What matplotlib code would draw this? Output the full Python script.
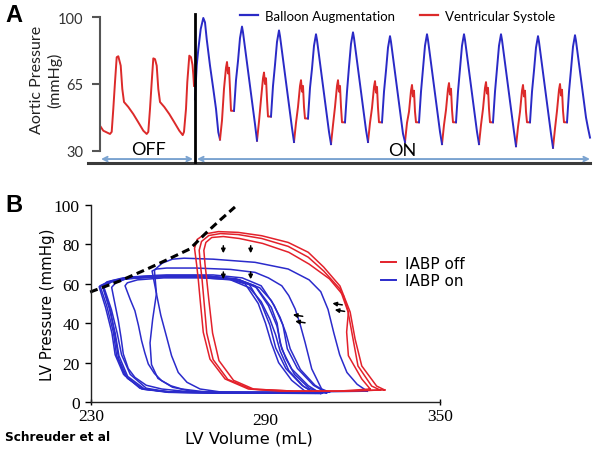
import matplotlib
matplotlib.use("Agg")
import matplotlib.pyplot as plt
from matplotlib.lines import Line2D

# ---------------- panel A: aortic pressure (x = sample index, y = mmHg) ----------------
off_t = [0, 3.3, 10, 11.7, 13.3, 15, 16.7, 18.3, 20.7, 22.3, 24, 28.3, 33.3, 38.3, 43.3, 46.7,
         48.3, 50, 51.7, 53.3, 55, 56.7, 58.3, 60, 64.3, 69.3, 74.3, 79.3, 82.7,
         84, 86, 87.3, 89.3, 91, 92.5, 93.3, 94]
off_p = [43.2, 40.6, 38.9, 40, 52, 66, 79, 79.5, 74.6, 62.4, 55.6, 53, 49.3, 45, 40.6, 38.9,
         40, 52, 66, 78.4, 78, 74.6, 62.4, 55.6, 53, 49.3, 45, 40.6, 38.3,
         40, 52, 66, 79.8, 79, 75, 70, 64]

first_blue_t = [95, 96.7, 98.3, 100.7, 103.3, 105, 106.7, 110, 113.3, 116, 118.3, 120]
first_blue_p = [57, 74.6, 83, 93.7, 99.5, 97.2, 88.5, 74.6, 62.4, 52, 39.8, 36]

on_red_t = [
    [120, 122, 124, 126, 127, 128, 129, 130, 131, 134],
    [157, 159, 161, 163, 164, 165, 166, 167, 168, 171],
    [194, 196, 198, 200, 201, 202, 203, 204, 205, 208],
    [231, 233, 235, 237, 238, 239, 240, 241, 242, 245],
    [268, 270, 272, 274, 275, 276, 277, 278, 279, 282],
    [305, 307, 309, 311, 312, 313, 314, 315, 316, 319],
    [342, 344, 346, 348, 349, 350, 351, 352, 353, 356],
    [379, 381, 383, 385, 386, 387, 388, 389, 390, 393],
    [416, 418, 420, 422, 423, 424, 425, 426, 427, 430],
    [453, 455, 457, 459, 460, 461, 462, 463, 464, 467],
]
on_red_p = [
    [36, 46, 62.5, 73.5, 76.5, 70.5, 73.5, 62.5, 51, 51],
    [35.4, 45.4, 57, 68, 71, 65, 68, 57, 48, 48],
    [34.7, 44.7, 53, 64, 67, 61, 64, 53, 47, 47],
    [33.6, 43.6, 53, 64, 67, 61, 64, 53, 45, 45],
    [34.7, 44.7, 52.5, 63.5, 66.5, 60.5, 63.5, 52.5, 45, 45],
    [34.7, 44.7, 50.5, 61.5, 64.5, 58.5, 61.5, 50.5, 45, 45],
    [33.6, 43.6, 51.5, 62.5, 65.5, 59.5, 62.5, 51.5, 45, 45],
    [33.6, 43.6, 52, 63, 66, 60, 63, 52, 45, 45],
    [32.5, 42.5, 50.5, 61.5, 64.5, 58.5, 61.5, 50.5, 45, 45],
    [31.7, 41.7, 51, 62, 65, 59, 62, 51, 45, 45],
]
on_blue_t = [
    [134, 136, 138, 140, 142, 143, 145, 147, 149, 151, 153, 155, 157],
    [171, 173, 175, 177, 179, 180, 182, 184, 186, 188, 190, 192, 194],
    [208, 210, 212, 214, 216, 217, 219, 221, 223, 225, 227, 229, 231],
    [245, 247, 249, 251, 253, 254, 256, 258, 260, 262, 264, 266, 268],
    [282, 284, 286, 288, 290, 291, 293, 295, 297, 299, 301, 303, 305],
    [319, 321, 323, 325, 327, 328, 330, 332, 334, 336, 338, 340, 342],
    [356, 358, 360, 362, 364, 365, 367, 369, 371, 373, 375, 377, 379],
    [393, 395, 397, 399, 401, 402, 404, 406, 408, 410, 412, 414, 416],
    [430, 432, 434, 436, 438, 439, 441, 443, 445, 447, 449, 451, 453],
    [467, 469, 471, 473, 475, 476, 478, 480, 482, 484, 486, 488, 490],
]
on_blue_p = [
    [51, 67, 77, 89, 95, 92, 84, 76, 68, 60, 52, 44, 35.4],
    [48, 64, 75, 87, 93, 90, 82, 74, 66, 58, 50, 42, 34.7],
    [47, 63, 73, 85, 91, 88, 80, 72, 64, 56, 48, 40, 33.6],
    [45, 61, 74, 86, 92, 89, 81, 73, 65, 57, 49, 41, 34.7],
    [45, 61, 72, 84, 90, 87, 79, 71, 63, 55, 47, 39, 34.7],
    [45, 61, 73, 85, 91, 88, 80, 72, 64, 56, 48, 40, 33.6],
    [45, 61, 73, 85, 91, 88, 80, 72, 64, 56, 48, 40, 33.6],
    [45, 61, 73, 85, 91, 88, 80, 72, 64, 56, 48, 40, 32.5],
    [45, 61, 72, 84, 90, 87, 79, 71, 63, 55, 47, 39, 31.7],
    [45, 61, 72.5, 84.5, 90.5, 87.5, 79.5, 71.5, 63.5, 55.5, 47.5, 42, 37],
]
on_start = 95          # balloon switched on
off_mid, on_mid = 48, 302

# ---------------- panel B: PV loops (mL, mmHg) ----------------
red_loops_v = [
    [331, 328.2, 323.1, 320.8, 319.1, 315.6, 310, 304.7, 297.8, 288.7, 280.6, 273.8, 269.2, 266.5,
     265.6, 266.3, 266.9, 267.5, 268.6, 270.9, 276.1, 284.1, 295, 315, 331],
    [329.4, 326.5, 321.8, 320.1, 318.4, 315.6, 310, 304.7, 297.8, 288.7, 280.6, 274.5, 270.5, 268,
     267.2, 267.6, 268.2, 268.8, 269.8, 272, 277, 285, 300, 318, 329.4],
    [326, 323.1, 318.5, 317.9, 318.5, 316.8, 312, 305, 298, 289, 281, 275.5, 271.5, 269.5,
     268.8, 269.2, 269.8, 270.5, 271.8, 274, 279, 286, 300, 315, 326],
]
red_loops_p = [
    [6.1, 8.1, 18.3, 32, 45.7, 58.9, 68.5, 76, 81, 84.4, 86.1, 86.5, 85.3, 82.5,
     78, 70, 62, 52.3, 35.4, 21.8, 11.7, 6.6, 5.5, 5.5, 6.1],
    [6.1, 8.1, 18.3, 32, 45.7, 57.4, 66.5, 73.5, 79, 83, 85, 85.5, 84.5, 81.5,
     77, 70, 62, 52, 35, 21.5, 11.5, 6.6, 5.5, 5.5, 6.1],
    [6.6, 11.7, 23.5, 35.5, 45.7, 54, 62.5, 70, 76, 80.5, 83, 84, 83.5, 81,
     77, 70, 62, 52, 35, 21, 11, 6.5, 5.5, 5.5, 6.6],
]
blue_loops_v = [
    [309, 304.7, 299, 295.6, 293.9, 291, 286.4, 280, 270, 255, 243, 236, 233.1, 235.4, 237.7,
     238.8, 241.7, 247.4, 256.6, 270, 290, 309],
    [311, 306.5, 301, 297.5, 296, 293, 288.5, 282, 272, 256, 244, 237, 234, 236.2, 238.3,
     239.6, 242.6, 248.5, 258, 272, 292, 311],
    [306.5, 302.5, 297, 293.5, 291.5, 288.8, 284.5, 278.5, 268, 254, 242, 235.5, 232.8, 235,
     237.2, 238.3, 241.2, 246.8, 255.5, 268, 288, 306.5],
    [309.5, 305, 300, 297, 295, 294, 292, 287, 281, 271, 256, 244, 237, 234.5, 237, 239, 240.5,
     243.5, 249, 257, 272, 292, 309.5],
    [304, 299, 294.5, 292, 290, 287.5, 283, 276, 266, 252, 241, 235.5, 234, 236.8, 238.2, 239.5,
     242.5, 248, 258, 275, 304],
    [307, 303, 298, 295, 293.5, 291.5, 288.5, 284.5, 278, 265, 250, 242, 238.5, 237.1, 238.2,
     239.4, 240.3, 241.1, 242.8, 245.1, 249, 254.3, 265, 285, 307],
    [311, 307, 302, 298.5, 297, 295, 292, 288, 281, 268, 255, 246, 242.5, 241.7, 243.5, 245.1,
     246.3, 247.4, 248.5, 249.7, 251.8, 254.3, 257.5, 261.2, 270, 290, 311],
    [312, 309.3, 305.9, 303.6, 301.8, 300.2, 298, 295.6, 291, 286.4, 278, 266, 256, 252.5, 251,
     252.5, 254, 256, 257.7, 260, 263, 267.5, 275, 290, 312],
    [325, 321.5, 318, 315.5, 313.5, 311.5, 309, 305, 297.8, 286.4, 272, 262, 258, 254.5, 251.8,
     252.5, 251.2, 250.3, 250.8, 253, 258, 266, 290, 325],
]
blue_loops_p = [
    [4.3, 8.3, 16.8, 26.9, 38.7, 48.9, 59, 62.5, 64, 64, 63, 61, 59, 48.9, 35.4,
     23.5, 13.4, 6.6, 4.9, 4.5, 4.5, 4.3],
    [4.6, 8.5, 17, 27, 39, 49, 59, 63, 64.5, 64.5, 63.5, 61.5, 58.5, 48, 35,
     23.5, 13, 6.5, 5, 4.7, 4.6, 4.6],
    [4.8, 8.5, 17, 27.5, 39, 49, 59.5, 62.5, 63.5, 63.5, 62.5, 60.5, 58.5, 48,
     35, 24, 14, 7, 5.2, 5, 5, 4.8],
    [4.5, 7, 14, 22, 30, 40, 48, 58, 62, 63.8, 64, 63, 61, 58, 47, 35, 24,
     14, 7, 5, 4.6, 4.5, 4.5],
    [5, 11, 20, 30, 40, 50, 60, 63, 64.2, 64.2, 63, 61, 59, 46, 34, 22,
     12, 6.5, 5, 5, 5],
    [4.5, 8, 16, 26, 34, 42, 51, 58, 62, 63.5, 63.5, 62.5, 60.5, 58.2, 50,
     41.3, 33, 24.4, 17, 12.5, 8.5, 6.6, 5, 4.5, 4.5],
    [5, 8.5, 16.5, 27, 35, 43, 51.5, 58, 62, 63, 63, 62, 60.5, 59, 52, 46.3,
     39, 31.1, 25, 19.3, 14.5, 10.8, 8.2, 6.6, 5, 4.5, 5],
    [5, 6.6, 16.8, 30.3, 40, 47.2, 54, 59, 63, 65.8, 67.3, 68, 68, 67.5, 66.5,
     55, 44, 33, 23.5, 15, 10, 6.6, 5, 4.8, 5],
    [5.5, 9, 15, 24, 35, 47, 56, 62, 67.5, 70.9, 72.5, 73, 72.5, 70.5, 67,
     55, 42, 30, 19, 12, 7.5, 5, 4.8, 5.5],
]
espvr_v = [229.7, 240, 249.3, 257, 264, 269.9, 274.5, 279.5]
espvr_p = [55.8, 61.5, 67.5, 72.8, 77.7, 86.3, 92.5, 99]

down_arrows = [(275.5, 79.3, 75.5), (284.9, 79.3, 75.5), (275.5, 66, 62.3), (284.9, 66, 62.3)]
left_arrows = [(302.8, 43.5, 299.4, 44.3), (303.6, 40.2, 300.2, 41.0),
               (316.4, 49.3, 313.0, 50.1), (317.2, 46.0, 313.8, 46.8)]

# ---------------- figure ----------------
W, H = 599, 452
fig = plt.figure(figsize=(W / 100, H / 100), dpi=100)


def px_box(l, t, r, b):
    return [l / W, 1 - b / H, (r - l) / W, (b - t) / H]


red_a, blue_a = '#DC2A2A', '#2A2AC6'
red_b, blue_b = '#E3212B', '#2B2BCB'

# ---- panel A ----
axA = fig.add_axes(px_box(100, 10, 592, 168))
axA.set_xlim(0, 492)
axA.set_ylim(21.64, 104.18)
axA.plot(off_t, off_p, color=red_a, lw=1.4)
axA.plot(first_blue_t, first_blue_p, color=blue_a, lw=1.4)
for t, p in zip(on_red_t, on_red_p):
    axA.plot(t, p, color=red_a, lw=1.4)
for t, p in zip(on_blue_t, on_blue_p):
    axA.plot(t, p, color=blue_a, lw=1.4)

for s in ['top', 'right', 'bottom']:
    axA.spines[s].set_visible(False)
axA.spines['left'].set_bounds(30, 100)
axA.spines['left'].set_color('#555555')
axA.spines['left'].set_linewidth(1.5)
axA.set_xticks([])
axA.set_yticks([30, 65, 100])
axA.tick_params(axis='y', length=6, width=1.5, color='#555555', pad=6, labelsize=10.5)
for lab in axA.get_yticklabels():
    lab.set_family('Lato')
    lab.set_color('#333333')

# baseline, on/off divider and arrows
axA.plot([-12, 490], [23.7, 23.7], color='#3a3a3a', lw=2.2, clip_on=False)
axA.plot([on_start, on_start], [24.2, 101.6], color='black', lw=2, clip_on=False)
arr = dict(arrowstyle='<->', color='#7BA3D0', lw=1.4, shrinkA=0, shrinkB=0, mutation_scale=8)
axA.annotate('', xy=(1, 25.8), xytext=(on_start - 2, 25.8), arrowprops=arr, annotation_clip=False)
axA.annotate('', xy=(on_start + 2, 25.8), xytext=(490, 25.8), arrowprops=arr, annotation_clip=False)
axA.text(off_mid, 31, 'OFF', ha='center', va='center', fontsize=13, family='Lato')
axA.text(on_mid, 30.5, 'ON', ha='center', va='center', fontsize=13, family='Lato')

fig.text(46.5 / W, 1 - 80 / H, 'Aortic Pressure\n(mmHg)', rotation=90, ha='center', va='center',
         multialignment='center', fontsize=11.5, family='Lato', linespacing=1.25, color='#222222')

handles_a = [Line2D([], [], color=blue_a, lw=1.6), Line2D([], [], color=red_a, lw=1.6)]
fig.legend(handles_a, ['Balloon Augmentation', 'Ventricular Systole'], loc='upper left',
           bbox_to_anchor=(233 / W, 1 - 4 / H), ncol=2, frameon=False, borderpad=0,
           handlelength=1.4, handletextpad=0.5, columnspacing=1.9,
           prop={'family': 'Lato', 'size': 9.5})

fig.text(5 / W, 1 - 3.5 / H, 'A', fontsize=17, fontweight='bold', family='Liberation Sans', va='top')
fig.text(5 / W, 1 - 193.5 / H, 'B', fontsize=17, fontweight='bold', family='Liberation Sans', va='top')

# ---- panel B ----
axB = fig.add_axes(px_box(91, 206, 440, 403))
axB.set_xlim(230, 350)
axB.set_ylim(0, 100)
for v, p in zip(blue_loops_v, blue_loops_p):
    axB.plot(v, p, color=blue_b, lw=1.1)
for v, p in zip(red_loops_v, red_loops_p):
    axB.plot(v, p, color=red_b, lw=1.1)
axB.plot(espvr_v, espvr_p, color='black', lw=2.2, ls=(0, (2.6, 1.5)), clip_on=False)

for v, p0, p1 in down_arrows:
    axB.annotate('', xy=(v, p1), xytext=(v, p0),
                 arrowprops=dict(arrowstyle='-|>', color='black', lw=1.1, shrinkA=0, shrinkB=0,
                                 mutation_scale=6))
for v0, p0, v1, p1 in left_arrows:
    axB.annotate('', xy=(v1, p1), xytext=(v0, p0),
                 arrowprops=dict(arrowstyle='-|>', color='black', lw=1.1, shrinkA=0, shrinkB=0,
                                 mutation_scale=6))

for s in ['top', 'right']:
    axB.spines[s].set_visible(False)
for s in ['left', 'bottom']:
    axB.spines[s].set_linewidth(1)
    axB.spines[s].set_color('#222222')
axB.set_yticks([0, 20, 40, 60, 80, 100])
axB.set_xticks([230, 290, 350])
axB.tick_params(axis='y', length=4.5, width=1, pad=3.5, labelsize=12.5)
axB.tick_params(axis='x', direction='inout', length=5, width=1, pad=2, labelsize=12.5)
for lab in axB.get_yticklabels() + axB.get_xticklabels():
    lab.set_family('Liberation Serif')
mid_tick = axB.xaxis.get_major_ticks()[1]
mid_tick.tick1line.set_visible(False)
mid_tick.set_pad(4.5)

axB.set_ylabel('LV Pressure (mmHg)', fontsize=10.8, family='DejaVu Sans')
axB.yaxis.set_label_coords(-0.103, 0.5)
axB.set_xlabel('LV Volume (mL)', fontsize=11.8, family='DejaVu Sans')
axB.xaxis.set_label_coords((249 - 91) / 349, -0.145)

handles_b = [Line2D([], [], color=red_b, lw=1.4), Line2D([], [], color=blue_b, lw=1.4)]
fig.legend(handles_b, ['IABP off', 'IABP on'], loc='upper left',
           bbox_to_anchor=(373 / W, 1 - 249 / H), frameon=False, borderpad=0,
           handlelength=1.0, handletextpad=0.6, labelspacing=0.15,
           prop={'family': 'DejaVu Sans', 'size': 11})

fig.text(5 / W, 1 - 438 / H, 'Schreuder et al', fontsize=8.7, fontweight='bold',
         family='DejaVu Sans', va='center', ha='left')

fig.savefig('out.png', dpi=100)
